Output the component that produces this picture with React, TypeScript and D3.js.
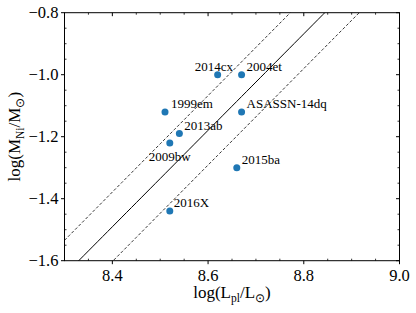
import React from 'react';
import * as d3 from 'd3';

const names = ['2014cx', '2004et', 'ASASSN-14dq', '1999em', '2013ab', '2009bw', '2016X', '2015ba'];
const logL = [8.62, 8.67, 8.67, 8.51, 8.54, 8.52, 8.52, 8.66];
const logM = [-1.0, -1.0, -1.12, -1.12, -1.19, -1.22, -1.44, -1.30];
// label offsets in px from the point
const labelDx = [-23, 5, 5, 6, 5, -21, 4, 5];
const labelDy = [-8, -8, -8, -8, -8, 14, -9, -8];

const xTicks = [8.4, 8.6, 8.8, 9.0];
const yTicks = [-1.6, -1.4, -1.2, -1.0, -0.8];

// fitted relation y = slope * x + intercept, and the scatter band
const slope = 1.556;
const intercept = -14.561;
const band = 0.112;

const W = 416;
const H = 313;
const margin = { top: 12.7, right: 16.5, bottom: 52.3, left: 64.5 };
const font = '"Liberation Serif", "Times New Roman", serif';

export default function App() {
  const x = d3.scaleLinear().domain([8.3, 9.0]).range([margin.left, W - margin.right]);
  const y = d3.scaleLinear().domain([-1.6, -0.8]).range([H - margin.bottom, margin.top]);
  const [x0, x1] = x.range();
  const [y0, y1] = y.range();

  const xMinor = d3.range(8.3, 9.0001, 0.05).filter(v => !xTicks.some(t => Math.abs(t - v) < 1e-6));
  const yMinor = d3.range(-1.6, -0.7999, 0.05).filter(v => !yTicks.some(t => Math.abs(t - v) < 1e-6));

  const line = d3.line<number>().x(v => x(v));
  const relation = (off: number) => {
    const xs = d3.range(8.3, 9.0001, 0.01);
    return line.y(v => y(slope * v + intercept + off))(xs) || '';
  };

  return (
    <svg width={W} height={H} style={{ position: 'absolute', left: 0, top: 0, background: '#fff' }}>
      <defs>
        <clipPath id="plot">
          <rect x={x0} y={y1} width={x1 - x0} height={y0 - y1} />
        </clipPath>
      </defs>

      <g clipPath="url(#plot)" fill="none" stroke="#000">
        <path d={relation(0)} strokeWidth={1} />
        <path d={relation(band)} strokeWidth={0.8} strokeDasharray="3,2" />
        <path d={relation(-band)} strokeWidth={0.8} strokeDasharray="3,2" />
      </g>

      {/* frame */}
      <rect x={x0} y={y1} width={x1 - x0} height={y0 - y1} fill="none" stroke="#000" strokeWidth={1} />

      {/* x ticks */}
      {xTicks.map(t => (
        <g key={'xt' + t}>
          <line x1={x(t)} x2={x(t)} y1={y0} y2={y0 + 3.5} stroke="#000" />
          <line x1={x(t)} x2={x(t)} y1={y1} y2={y1 + 3.5} stroke="#000" />
          <text x={x(t)} y={y0 + 20} textAnchor="middle" fontFamily={font} fontSize={16.5}>
            {t.toFixed(1)}
          </text>
        </g>
      ))}
      {xMinor.map(t => (
        <g key={'xm' + t}>
          <line x1={x(t)} x2={x(t)} y1={y0} y2={y0 - 2} stroke="#000" strokeWidth={0.8} />
          <line x1={x(t)} x2={x(t)} y1={y1} y2={y1 + 2} stroke="#000" strokeWidth={0.8} />
        </g>
      ))}

      {/* y ticks */}
      {yTicks.map(t => (
        <g key={'yt' + t}>
          <line x1={x0} x2={x0 - 3.5} y1={y(t)} y2={y(t)} stroke="#000" />
          <line x1={x1} x2={x1 - 3.5} y1={y(t)} y2={y(t)} stroke="#000" />
          <text x={x0 - 6} y={y(t)} dy="0.35em" textAnchor="end" fontFamily={font} fontSize={16.5}>
            {'\u2212' + Math.abs(t).toFixed(1)}
          </text>
        </g>
      ))}
      {yMinor.map(t => (
        <g key={'ym' + t}>
          <line x1={x0} x2={x0 + 2} y1={y(t)} y2={y(t)} stroke="#000" strokeWidth={0.8} />
          <line x1={x1} x2={x1 - 2} y1={y(t)} y2={y(t)} stroke="#000" strokeWidth={0.8} />
        </g>
      ))}

      {/* points and labels */}
      {names.map((n, i) => (
        <g key={n}>
          <circle cx={x(logL[i])} cy={y(logM[i])} r={3.5} fill="#1f77b4" />
          <text
            x={x(logL[i]) + labelDx[i]}
            y={y(logM[i]) + labelDy[i]}
            dy="0.35em"
            fontFamily={font}
            fontSize={13}
          >
            {n}
          </text>
        </g>
      ))}

      {/* axis labels */}
      <text x={(x0 + x1) / 2} y={298} textAnchor="middle" fontFamily={font} fontSize={17}>
        log(L<tspan fontSize={11.5} dy={4}>pl</tspan>
        <tspan dy={-4}>/L</tspan>
        <tspan fontSize={11.5} dy={4}>{'\u2299'}</tspan>
        <tspan dy={-4}>)</tspan>
      </text>
      <text
        transform={`translate(20,${(y0 + y1) / 2}) rotate(-90)`}
        textAnchor="middle"
        fontFamily={font}
        fontSize={17}
      >
        log(M<tspan fontSize={11.5} dy={4}>Ni</tspan>
        <tspan dy={-4}>/M</tspan>
        <tspan fontSize={11.5} dy={4}>{'\u2299'}</tspan>
        <tspan dy={-4}>)</tspan>
      </text>
    </svg>
  );
}
